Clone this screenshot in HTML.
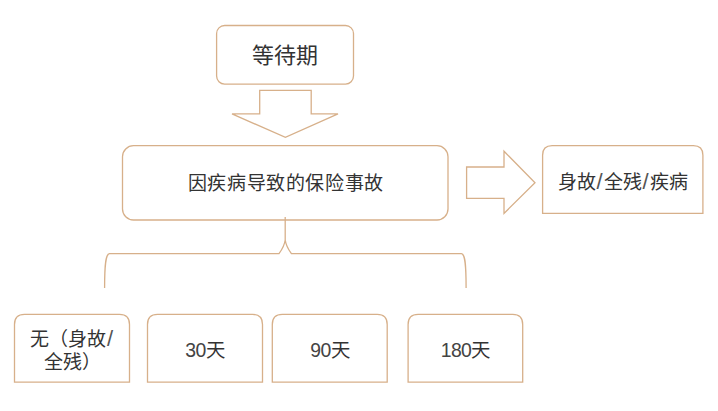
<!DOCTYPE html>
<html lang="zh-CN">
<head>
<meta charset="utf-8">
<style>
html,body{margin:0;padding:0;background:#fff;}
body{width:718px;height:411px;position:relative;overflow:hidden;font-family:"Liberation Sans",sans-serif;color:#333;}
svg{position:absolute;left:0;top:0;}
.t{position:absolute;text-align:center;white-space:nowrap;line-height:1;}
.d{letter-spacing:-0.6px;color:#444;}
.s{font-size:22px;line-height:10px;display:inline-block;width:8px;text-align:center;color:#555;}
</style>
</head>
<body>
<svg width="718" height="411" viewBox="0 0 718 411">
<g fill="#fff" stroke="#d7b08a" stroke-width="1.3" stroke-linejoin="miter">
  <!-- wait period box -->
  <rect x="216.6" y="25.5" width="136.9" height="58.6" rx="8" ry="8"/>
  <!-- down arrow -->
  <polygon points="259.7,90.4 311.2,90.4 311.2,113.9 338,113.9 285.4,137.4 232,113.9 259.7,113.9"/>
  <!-- main box -->
  <rect x="122.5" y="145.7" width="325.5" height="74.3" rx="11" ry="11"/>
  <!-- right arrow -->
  <polygon points="466.6,167 504,167 504,151.2 535,182.8 504,213.4 504,198.3 466.6,198.3"/>
  <!-- right box -->
  <path d="M542.6,213.3 L542.6,155.2 Q542.6,145.7 552.1,145.7 L693.4,145.7 Q702.9,145.7 702.9,155.2 L702.9,213.3 Z"/>
  <!-- bottom boxes -->
  <path d="M14.5,382.2 L14.5,324.4 Q14.5,314.4 24.5,314.4 L119.5,314.4 Q129.5,314.4 129.5,324.4 L129.5,382.2 Z"/>
  <path d="M147.5,382.2 L147.5,324.4 Q147.5,314.4 157.5,314.4 L252.5,314.4 Q262.5,314.4 262.5,324.4 L262.5,382.2 Z"/>
  <path d="M272.3,382.2 L272.3,324.4 Q272.3,314.4 282.3,314.4 L377.2,314.4 Q387.2,314.4 387.2,324.4 L387.2,382.2 Z"/>
  <path d="M408.1,382.2 L408.1,324.4 Q408.1,314.4 418.1,314.4 L512.7,314.4 Q522.7,314.4 522.7,324.4 L522.7,382.2 Z"/>
</g>
<!-- brace -->
<path fill="none" stroke="#d7b08a" stroke-width="1.3"
  d="M104.6,288 C104.6,262 106,254 109.5,253.6 L279,253.6 Q284.3,246.5 285.2,240 L285.2,217 M285.2,240 Q286.1,246.5 291.4,253.6 L461.4,253.6 C464.9,254 466.1,262 466.1,288"/>
</svg>

<div class="t" style="left:216px;top:44.5px;width:138px;font-size:22px;">等待期</div>
<div class="t" style="left:122.5px;top:173.8px;width:326px;font-size:19px;letter-spacing:0.6px;text-indent:0.6px;">因疾病导致的保险事故</div>
<div class="t" style="left:542px;top:172.6px;width:161px;font-size:19px;">身故<span class="s">/</span>全残<span class="s">/</span>疾病</div>
<div class="t" style="left:14px;top:328px;width:116px;font-size:19px;line-height:23px;">无（身故<span class="s">/</span><br>全残）</div>
<div class="t" style="left:147px;top:340.8px;width:116px;font-size:19.4px;"><span class="d">30</span>天</div>
<div class="t" style="left:272px;top:340.8px;width:116px;font-size:19.4px;"><span class="d">90</span>天</div>
<div class="t" style="left:408px;top:340.8px;width:115px;font-size:19.4px;"><span class="d">180</span>天</div>
</body>
</html>
